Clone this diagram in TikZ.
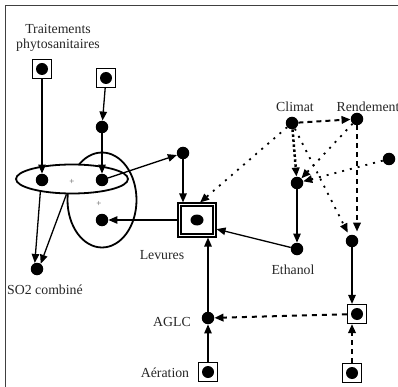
\documentclass[tikz,border=0pt]{standalone}
\usepackage{fontspec}
\setmainfont{Liberation Serif}
\usetikzlibrary{arrows.meta,calc,shapes.geometric}
\tikzset{
 dot/.style={circle,fill,inner sep=0pt,minimum size=12.5pt},
 sqbox/.style={draw,line width=1.2pt,minimum size=19pt,inner sep=0pt,
   path picture={\fill (path picture bounding box.center) circle (6pt);}},
 lbl/.style={font=\fontsize{13.8}{15.5}\selectfont,inner sep=0pt,align=center,text=black!85},
 plus/.style={font=\fontsize{9}{10}\selectfont,text=black!65,inner sep=0pt},
 oval/.style={ellipse,draw,line width=1.8pt,inner sep=0pt},
 tip/.style={-{Triangle[length=9pt,width=7.5pt]}},
 arr/.style={tip,line width=1.3pt},
 dshA/.style={tip,line width=2pt,dash pattern=on 5pt off 4pt},
 sqdots/.style={tip,line width=2.5pt,dash pattern=on 2.5pt off 2.5pt},
 fdots/.style={tip,line width=1.8pt,dash pattern=on 2pt off 6pt},
 vdash/.style={tip,line width=2pt,dash pattern=on 4.5pt off 4.5pt},
 hdash/.style={tip,line width=2pt,dash pattern=on 5pt off 5pt},
}
\begin{document}
\begin{tikzpicture}[x=1pt,y=-1pt]
\useasboundingbox (0,0) rectangle (398,387);
\draw[line width=1.4pt,black!75] (5.5,388) -- (5.5,5.8) -- (400,5.8);

% ellipses
\node[oval,minimum width=69pt,minimum height=95pt] (ev) at (102,200) {};
\node[oval,fill=white,minimum width=112pt,minimum height=29pt] (eh) at (72,179) {};
\node[plus] (p1) at (72,182) {+};
\node[plus] (p2) at (99,204) {+};

% nodes
\node[sqbox] (t1) at (42,69) {};
\node[lbl] (t1l) at (58,38) {Traitements\\phytosanitaires};
\node[sqbox] (t2) at (106,78) {};
\node[dot] (a) at (102,127) {};
\node[dot] (b1) at (42,180) {};
\node[dot] (b2) at (102,180) {};
\node[dot] (c) at (102,220) {};
\node[dot] (d) at (183,153) {};
\node[dot] (so2) at (37,269) {};
\node[lbl] (so2l) at (45,290) {SO2 combiné};

\node[draw,line width=1.1pt,minimum width=38pt,minimum height=34pt,inner sep=0pt] (lev) at (197,220) {};
\node[draw,line width=1.1pt,minimum width=32pt,minimum height=28pt,inner sep=0pt] (levi) at (197,220) {};
\fill (lev.center) ellipse (6.5pt and 5.5pt);
\node[lbl] (levl) at (162,255) {Levures};

\node[dot] (climat) at (292,123) {};
\node[lbl] (climatl) at (295,107) {Climat};
\node[dot] (rend) at (357,119) {};
\node[lbl] (rendl) at (368,107) {Rendement};
\node[dot] (rdot) at (389,159) {};
\node[dot] (m) at (297,183) {};
\node[dot] (eth) at (297,249) {};
\node[lbl] (ethl) at (293,270) {Ethanol};
\node[dot] (rl) at (352,241) {};
\node[sqbox] (sqr) at (357,314) {};
\node[sqbox] (sqb) at (352,373) {};
\node[dot] (aglc) at (208,318) {};
\node[lbl] (aglcl) at (172,322) {AGLC};
\node[sqbox] (aer) at (208,372) {};
\node[lbl] (aerl) at (165,373) {Aération};

% solid arrows
\draw[arr] (t1) -- (b1);
\draw[arr] (t2) -- (a);
\draw[arr] (a) -- (b2);
\draw[arr] (b2) -- (d);
\draw[arr] (d) -- (d |- lev.north);
\draw[arr] (lev) -- (c);
\draw[arr] (eh.-158) -- (so2.110);
\draw[arr] (eh.-110) -- (so2.55);
\draw[arr] (eth) -- (lev.-25);
\draw[arr] (m) -- (eth);
\draw[arr] (aglc) -- (aglc |- lev.south);
\draw[arr] (aer) -- (aglc);
\draw[arr] (rl) -- (rl |- sqr.north);

% dotted / dashed arrows
\draw[dshA] (climat) -- (rend);
\draw[sqdots] (climat) -- (m);
\draw[fdots] (climat) -- (lev.80);
\draw[fdots,shorten >=3pt] (climat) -- (rl);
\draw[fdots] (rend) -- (m);
\draw[fdots] (rdot) -- (m);
\draw[vdash,shorten >=3pt] (rend) -- (rend |- rl.north);
\draw[hdash] (sqr) -- (aglc);
\draw[vdash] (sqb) -- (sqb |- sqr.south);
\end{tikzpicture}
\end{document}
